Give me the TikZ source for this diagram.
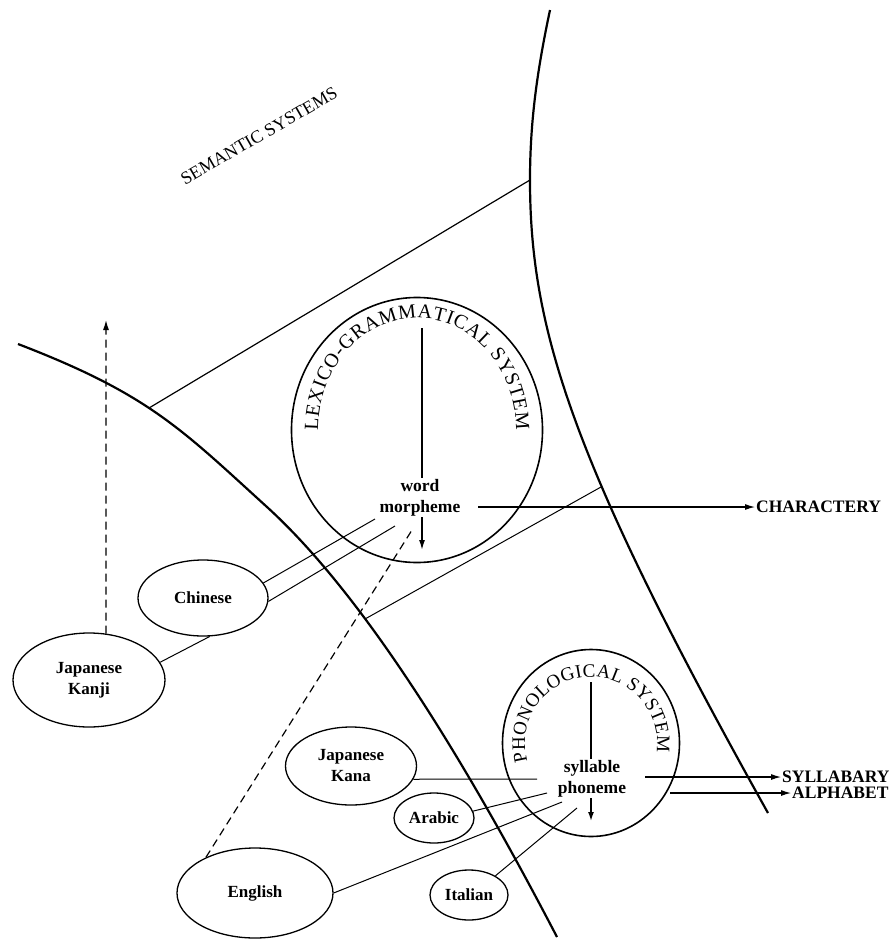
\documentclass[tikz,border=0pt]{standalone}
\usepackage{fontspec}
\setmainfont{Liberation Serif}
\usepackage{tikz}
\usetikzlibrary{arrows.meta,positioning,shapes.geometric,decorations.text}
\newcommand\ringfont{\fontsize{20}{22}\selectfont}
\newcommand\phonfont{\fontsize{19}{21}\selectfont}

\begin{document}
\begin{tikzpicture}[x=1pt,y=1pt,
  edgeline/.style={line width=2.2pt},
  sys/.style={draw,ellipse,line width=1.6pt,inner sep=0pt},
  lang/.style={draw,ellipse,line width=1.3pt,inner sep=0pt,align=center,
    font=\fontsize{17}{21}\selectfont\bfseries},
  levellbl/.style={align=center,inner sep=1pt,font=\fontsize{17.5}{21}\selectfont\bfseries},
  scriptlbl/.style={anchor=west,inner sep=1pt,font=\fontsize{17.5}{21}\selectfont\bfseries},
  link/.style={line width=1pt},
  stem/.style={line width=1.5pt},
  arr/.style={line width=1.1pt,-{Latex[length=10pt,width=6pt]}},
  hint/.style={line width=1.2pt,dash pattern=on 8pt off 5pt}]
\useasboundingbox (0,0) rectangle (895,-940);

% boundaries
\draw[edgeline] (18,-344) .. controls (148.7,-394.2) and (180.8,-428.6) .. (267,-507)
  .. controls (378,-608) and (487.7,-804) .. (557,-937);
\draw[edgeline] (550,-10) .. controls (537.5,-69) and (530,-120) .. (530,-180)
  .. controls (530,-330) and (572.8,-463.8) .. (768,-813);
\coordinate (topl) at (149,-408);
\coordinate (topr) at (530,-180);
\coordinate (lowl) at (365,-619);
\coordinate (lowr) at (601,-487);
\draw[link,line width=1.2pt] (topl) -- (topr);
\draw[link] (lowl) -- (lowr);

\node[rotate=30,font=\fontsize{18}{20}\selectfont] (sem) at (259,-136) {SEMANTIC SYSTEMS};

% systems
\node[sys,minimum width=251pt,minimum height=265pt] (lex) at (417,-430) {};
\node[sys,minimum width=177pt,minimum height=187pt] (phon) at (591,-743) {};
\path[decorate,decoration={text along path,text align={fit to path},
  text={|\ringfont|LEXICO-GRAMMATICAL SYSTEM}}]
  (lex.center) ++(180:99 and 112) arc[start angle=180,end angle=0,x radius=99,y radius=112];
\path[decorate,decoration={text along path,text align={fit to path},
  text={|\phonfont|PHONOLOGICAL SYSTEM}}]
  (phon.center) ++(196:66) arc[start angle=196,end angle=-8,radius=66];

\node[levellbl] (wm) at (420,-497.5) {word\\morpheme};
\node[levellbl] (sp) at (592,-778.5) {syllable\\phoneme};
\coordinate (lextop) at (422,-328);
\coordinate (lexdown) at (422,-550);
\coordinate (phontop) at (591,-682);
\coordinate (phondown) at (591,-821);
\draw[stem] (lextop) -- (lextop |- wm.north);
\draw[stem,-{Latex[length=10pt,width=6pt]}] (lexdown |- wm.south) -- (lexdown);
\draw[stem] (phontop) -- (phontop |- sp.north);
\draw[stem,-{Latex[length=9pt,width=6pt]}] (phondown |- sp.south) -- (phondown);

% writing systems
\node[scriptlbl] (chary) at (755,-507) {CHARACTERY};
\node[scriptlbl] (sylb) at (781,-777) {SYLLABARY};
\node[scriptlbl] (alph) at (791,-793) {ALPHABET};
\coordinate (charfrom) at (478,-507);
\coordinate (sylfrom) at (645,-777);
\coordinate (alphfrom) at (670,-793);
\draw[arr] (charfrom) -- (chary);
\draw[arr] (sylfrom) -- (sylb);
\draw[arr] (alphfrom) -- (alph);

% languages
\node[lang,minimum width=130pt,minimum height=76pt] (chinese) at (203,-598) {Chinese};
\node[lang,minimum width=152pt,minimum height=94pt] (kanji) at (89,-680) {Japanese\\Kanji};
\node[lang,minimum width=131pt,minimum height=78pt] (kana) at (351,-766) {Japanese\\Kana};
\node[lang,minimum width=80pt,minimum height=50pt] (arabic) at (434,-818) {Arabic};
\node[lang,minimum width=156pt,minimum height=90pt] (english) at (255,-893) {English};
\node[lang,minimum width=78pt,minimum height=50pt] (italian) at (469,-895) {Italian};

\coordinate (chin1) at (375,-519);
\coordinate (chin2) at (395,-526);
\coordinate (kanjiup) at (106,-320);
\coordinate (engup) at (412,-530);
\draw[link] (chinese.14) -- (chin1);
\draw[link] (chinese.-3) -- (chin2);
\draw[link] (kanji.14) -- (chinese.-80);
\draw[hint,-{Latex[length=10pt,width=6pt]}] (kanji.70) -- (kanjiup);
\draw[hint] (english.144) -- (engup);

\coordinate (kanato) at (537,-779);
\coordinate (arabto) at (547,-793);
\coordinate (engto) at (562,-802);
\coordinate (italto) at (577,-808);
\draw[link] (kana.-12) -- (kanato);
\draw[link] (arabic.10) -- (arabto);
\draw[link] (english.east) -- (engto);
\draw[link] (italian.36) -- (italto);
\end{tikzpicture}
\end{document}
